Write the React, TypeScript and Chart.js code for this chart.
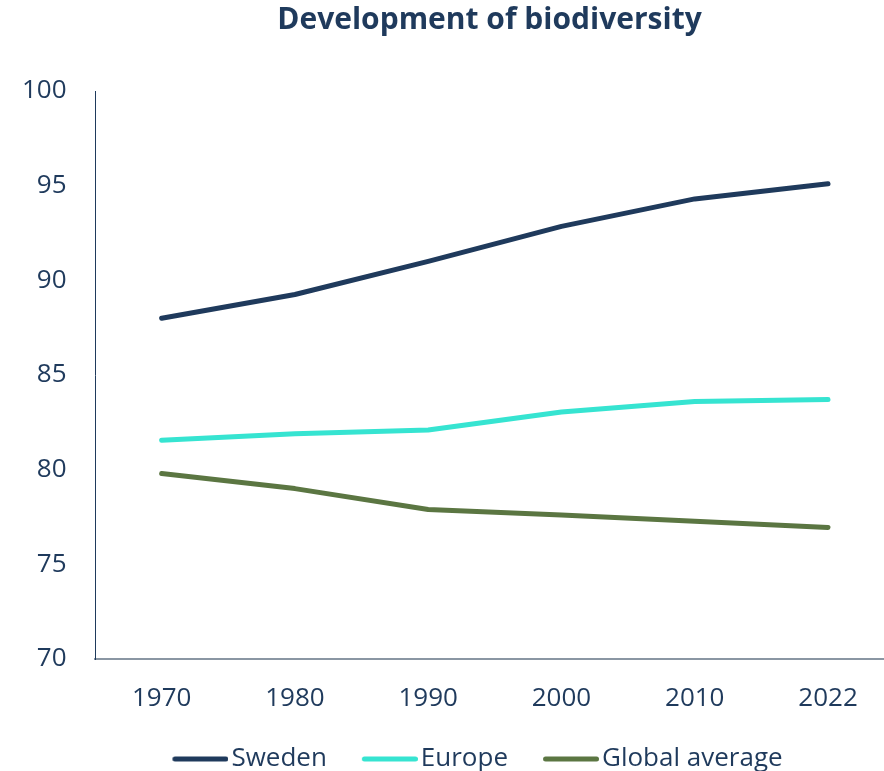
import React, { useEffect, useRef } from "react";
import { Chart, registerables } from "chart.js";

Chart.register(...registerables);

const YEARS = ["1970", "1980", "1990", "2000", "2010", "2022"];
const SWEDEN = [88.0, 89.25, 91.0, 92.85, 94.3, 95.1];
const EUROPE = [81.55, 81.9, 82.1, 83.05, 83.6, 83.7];
const GLOBAL = [79.8, 79.0, 77.9, 77.6, 77.27, 76.95];
const SERIES_NAMES = ["Sweden", "Europe", "Global average"];
const Y_TICKS = [70, 75, 80, 85, 90, 95, 100];

const COLORS = ["#1f3a5c", "#36e4d1", "#5b7642"];
const TEXT = "#1f3a5c";
const FONT = "'Open Sans', 'Noto Sans', sans-serif";

function legendLine(color: string): HTMLCanvasElement {
  const c = document.createElement("canvas");
  c.width = 66;
  c.height = 8;
  const ctx = c.getContext("2d")!;
  ctx.strokeStyle = color;
  ctx.lineWidth = 5;
  ctx.lineCap = "round";
  ctx.beginPath();
  ctx.moveTo(12.5, 4);
  ctx.lineTo(63.5, 4);
  ctx.stroke();
  return c;
}

export default function App() {
  const ref = useRef<HTMLCanvasElement | null>(null);

  useEffect(() => {
    document.body.style.margin = "0";
    if (!ref.current) return;
    const seriesValues = [SWEDEN, EUROPE, GLOBAL];
    const images = COLORS.map(legendLine);
    const chart = new Chart(ref.current, {
      type: "line",
      data: {
        datasets: seriesValues.map((vals, i) => ({
          label: SERIES_NAMES[i],
          data: vals.map((v, j) => ({ x: j, y: v })),
          borderColor: COLORS[i],
          backgroundColor: COLORS[i],
          borderWidth: 5,
          borderCapStyle: "round" as const,
          borderJoinStyle: "round" as const,
          pointRadius: 0,
          pointHoverRadius: 0,
          tension: 0,
          fill: false,
        })),
      },
      options: {
        animation: false,
        responsive: true,
        maintainAspectRatio: false,
        layout: { padding: { left: 71, right: 0, top: 0, bottom: -11 } },
        plugins: {
          tooltip: { enabled: false },
          title: {
            display: true,
            text: "Development of biodiversity",
            color: TEXT,
            fullSize: false,
            font: { family: FONT, size: 30, weight: "bold" },
            padding: { top: 2, bottom: 53 },
          },
          legend: {
            position: "bottom",
            fullSize: true,
            labels: {
              color: TEXT,
              font: { family: FONT, size: 26 },
              usePointStyle: true,
              pointStyleWidth: 46,
              padding: 35,
              generateLabels: (c: any) => {
                const items = Chart.defaults.plugins.legend.labels.generateLabels(c);
                items.forEach((it: any, i: number) => {
                  it.pointStyle = images[i];
                });
                return items;
              },
            },
          },
        },
        scales: {
          x: {
            type: "linear",
            min: -0.5,
            max: 5.42,
            grid: { display: false, drawTicks: false },
            border: { display: true, color: "#8a96a3", width: 2 },
            afterBuildTicks: (axis: any) => {
              axis.ticks = YEARS.map((_, i) => ({ value: i }));
            },
            afterFit: (axis: any) => {
              axis.height = 52;
            },
            ticks: {
              color: TEXT,
              font: { family: FONT, size: 26 },
              padding: 24,
              maxRotation: 0,
              autoSkip: false,
              callback: (v: any) => YEARS[Number(v)] ?? "",
            },
          },
          y: {
            min: Y_TICKS[0],
            max: Y_TICKS[Y_TICKS.length - 1],
            grid: { display: false, drawTicks: false },
            border: { display: true, color: TEXT, width: 1 },
            afterBuildTicks: (axis: any) => {
              axis.ticks = Y_TICKS.map((v) => ({ value: v }));
            },
            afterFit: (axis: any) => {
              axis.width = 24;
            },
            ticks: {
              color: TEXT,
              font: { family: FONT, size: 26 },
              mirror: true,
              crossAlign: "far",
              padding: -73,
            },
          },
        },
      },
    });
    return () => chart.destroy();
  }, []);

  return (
    <div style={{ position: "relative", width: 884, height: 771 }}>
      <canvas ref={ref} />
    </div>
  );
}
